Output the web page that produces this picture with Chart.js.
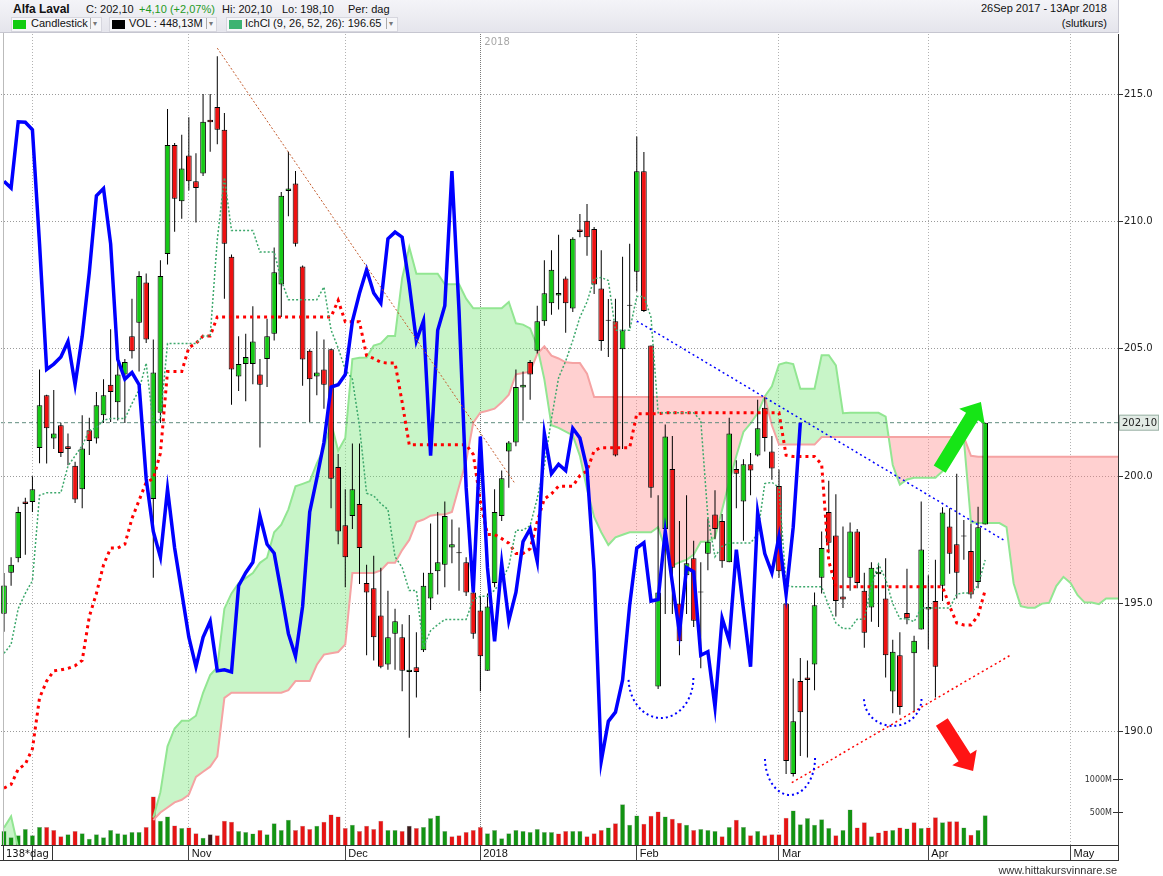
<!DOCTYPE html>
<html>
<head>
<meta charset="utf-8">
<script src="https://cdn.jsdelivr.net/npm/chart.js@4.4.1/dist/chart.umd.min.js"></script>
<style>
  html, body { margin: 0; padding: 0; background: #fff; }
  #wrap { position: relative; width: 1163px; height: 876px; overflow: hidden; font-family: "Liberation Sans", Arial, sans-serif; color: #111; }
  #c { position: absolute; left: 0; top: 0; }
  .hdr { position: absolute; left: 0; top: 0; width: 1118px; height: 32px; background: linear-gradient(#f4f4f8, #e5e5ec); border-bottom: 1px solid #c6c6d0; border-right: 1px solid #c6c6d0; }
  .t { position: absolute; white-space: nowrap; font-size: 11px; line-height: 14px; }
  .s { font-size: 11px; line-height: 13px; }
  .b { font-weight: bold; font-size: 12px; }
  .chip { position: absolute; top: 17px; height: 13px; background: #f6f6f9; border: 1px solid #d6d6de; }
  .sq { position: absolute; top: 20px; width: 13px; height: 9px; }
  .dd { position: absolute; top: 18px; height: 11px; border-left: 1px solid #aaa; padding-left: 2px; font-size: 8px; line-height: 11px; color: #777; font-family: "DejaVu Sans", sans-serif; }
  .ln { position: absolute; background: #333; }
</style>
</head>
<body>
<div id="wrap">
  <canvas id="c" width="1163" height="876"></canvas>
  <div class="hdr"></div>
  <div class="t b" style="left:13px;top:2px">Alfa Laval</div>
  <div class="t" style="left:86px;top:2px">C: 202,10</div>
  <div class="t" style="left:139px;top:2px;color:#1f9a1f">+4,10 (+2,07%)</div>
  <div class="t" style="left:222px;top:2px">Hi: 202,10</div>
  <div class="t" style="left:282px;top:2px">Lo: 198,10</div>
  <div class="t" style="left:348px;top:2px">Per: dag</div>

  <div class="chip" style="left:11px;width:89px"></div>
  <div class="sq" style="left:13px;background:#11cc11"></div>
  <div class="t s" style="left:31px;top:17px">Candlestick</div>
  <div class="dd" style="left:90px">&#9662;</div>

  <div class="chip" style="left:109px;width:106px"></div>
  <div class="sq" style="left:112px;background:#000"></div>
  <div class="t s" style="left:129px;top:17px">VOL : 448,13M</div>
  <div class="dd" style="left:206px">&#9662;</div>

  <div class="chip" style="left:226px;width:170px"></div>
  <div class="sq" style="left:229px;background:#3cb371"></div>
  <div class="t s" style="left:245px;top:17px">IchCl (9, 26, 52, 26): 196.65</div>
  <div class="dd" style="left:386px">&#9662;</div>

  <div class="t s" style="right:56px;top:2px">26Sep 2017 - 13Apr 2018</div>
  <div class="t s" style="right:56px;top:17px">(slutkurs)</div>

  <div class="t s" style="left:6px;top:847px;font-family:'DejaVu Sans';font-size:10px">138*dag</div>
  <div class="ln" style="left:3px;top:845px;width:1px;height:15px"></div>
  <div class="ln" style="left:52px;top:845px;width:1px;height:15px"></div>
  <div class="ln" style="left:0;top:860px;width:1119px;height:1px"></div>
  <div class="ln" style="left:1118px;top:845px;width:1px;height:16px"></div>
  <div class="ln" style="left:3px;top:33px;width:1px;height:812px;background:#bbb"></div>
  <div class="t s" style="right:46px;top:864px;color:#333">www.hittakursvinnare.se</div>
</div>
<script>
// daily candles, 26 Sep 2017 - 13 Apr 2018
const open = [194.60,196.21,196.78,199.01,198.99,201.11,203.18,201.48,202.00,201.18,
  200.41,199.49,201.80,201.48,202.39,203.59,202.90,203.99,205.49,206.02,
  207.60,199.11,202.49,208.72,213.00,210.79,212.59,211.58,211.88,213.99,
  214.49,213.60,208.61,203.91,204.40,204.40,203.99,204.60,205.59,207.52,
  211.19,211.49,208.23,204.92,203.91,204.19,204.98,200.36,198.08,198.44,
  198.91,195.81,195.60,194.53,192.61,193.82,193.68,192.32,192.50,193.17,
  195.20,196.27,196.52,197.20,196.98,196.62,195.44,194.73,192.36,195.81,
  198.44,200.97,201.32,203.48,204.48,204.92,206.08,206.79,207.09,207.76,
  206.58,209.68,210.03,209.70,207.37,206.10,206.08,204.98,206.69,208.02,
  211.97,205.13,191.75,197.93,200.28,195.00,196.11,196.78,195.44,196.96,
  198.50,198.24,196.62,200.28,199.01,200.47,200.81,202.69,200.97,199.62,
  195.00,188.31,191.96,192.10,192.61,196.01,198.60,197.67,195.28,196.01,
  197.83,195.50,194.85,196.15,195.20,191.55,192.97,194.63,193.05,193.98,
  194.87,195.10,195.70,198.03,197.33,197.63,197.06,195.85,198.10];
const high = [196.20,196.82,198.80,199.15,200.00,204.19,203.20,203.38,202.10,201.68,
  200.57,202.39,202.29,203.30,203.81,205.77,204.60,204.60,206.96,208.04,
  207.96,205.37,208.48,214.41,213.08,213.40,214.09,212.67,215.00,215.00,
  216.48,214.25,208.70,205.49,205.59,206.67,204.60,206.18,208.98,211.15,
  212.73,211.98,208.27,204.98,205.69,205.37,205.00,200.87,199.49,201.28,
  201.28,196.52,196.88,196.41,195.50,194.80,194.19,194.55,193.88,196.21,
  198.14,198.60,199.01,198.30,197.99,196.82,195.70,195.30,195.40,199.49,
  200.22,201.38,204.19,204.11,204.56,206.69,208.48,208.87,209.48,207.84,
  209.38,210.29,210.68,209.78,208.87,206.95,206.96,208.61,209.12,213.33,
  212.72,205.13,199.25,202.03,201.58,198.24,199.25,197.47,196.62,198.34,
  199.45,198.52,202.29,200.63,200.67,200.91,203.00,203.10,201.58,200.26,
  195.30,192.06,192.87,192.77,195.44,197.83,199.82,199.29,198.03,198.18,
  197.93,196.21,196.62,196.52,196.78,193.58,193.88,196.37,193.74,199.01,
  196.11,196.72,198.78,198.74,200.10,198.28,198.14,198.80,202.10];
const low = [193.90,195.70,196.62,196.92,198.60,200.51,200.50,201.07,200.75,200.43,
  198.95,198.74,200.83,201.28,202.09,202.13,202.19,202.09,204.62,204.11,
  205.23,196.01,202.09,208.31,209.59,210.10,211.21,209.96,211.78,212.73,
  213.03,206.96,202.80,203.34,202.94,203.61,201.13,203.50,205.33,206.25,
  210.20,209.02,203.55,202.13,203.18,202.65,198.74,197.33,195.64,197.93,
  195.77,192.97,192.77,192.46,192.40,192.40,191.56,189.74,191.31,193.10,
  194.75,195.36,195.64,196.58,195.50,195.30,193.62,191.56,192.36,195.64,
  198.24,199.55,201.18,202.19,203.00,204.82,205.90,206.34,206.54,205.63,
  206.44,209.38,208.65,207.15,204.92,204.68,200.77,201.07,205.83,207.25,
  206.44,199.15,191.65,194.59,194.59,192.97,194.59,194.08,192.46,196.31,
  197.53,196.41,196.62,198.74,197.47,199.25,200.77,200.97,199.86,196.01,
  188.31,188.21,189.02,188.96,191.60,195.40,196.98,194.49,194.83,195.50,
  195.60,193.27,194.29,194.08,192.10,190.70,190.64,194.19,190.74,193.98,
  193.21,191.31,195.10,196.17,195.20,196.72,195.20,195.60,198.10];
const close = [195.71,196.52,198.60,198.91,199.49,202.78,201.88,201.68,200.91,201.07,
  199.09,201.09,201.38,202.78,203.18,203.30,203.99,204.48,204.90,207.86,
  205.37,204.07,207.86,213.00,210.89,212.08,211.58,211.31,213.91,213.89,
  213.60,209.12,204.19,204.40,204.68,205.29,203.59,205.49,208.00,211.01,
  211.29,209.12,204.58,203.81,204.07,203.59,199.90,197.83,196.82,199.49,
  197.18,195.44,193.68,192.52,193.68,194.31,192.36,192.40,192.32,195.70,
  196.21,196.62,198.44,197.33,196.98,195.44,193.82,192.93,194.89,198.60,
  199.92,201.32,203.50,203.59,203.99,206.08,207.18,208.10,207.19,206.79,
  209.32,209.58,209.38,207.52,205.31,206.10,200.81,205.73,206.69,211.97,
  206.48,199.55,195.44,201.56,196.41,193.52,196.58,194.33,195.44,197.43,
  197.93,196.66,201.68,200.10,200.47,200.22,201.88,201.50,200.30,196.27,
  188.82,190.38,190.74,192.00,194.94,197.18,197.39,195.10,195.16,197.83,
  195.81,193.86,196.41,196.25,192.97,193.11,190.94,194.43,193.54,197.12,
  194.77,192.52,198.58,196.96,196.21,197.63,195.36,198.00,202.10];
// volume in millions
const volume = [211,117,148,242,148,273,273,226,133,164,
  211,179,94,164,117,226,179,164,195,195,
  273,733,367,429,296,257,265,179,109,164,
  148,367,351,211,195,172,226,164,328,226,
  382,226,289,242,289,351,460,429,257,304,
  211,289,242,367,226,226,211,289,257,273,
  406,445,211,133,148,195,226,273,179,226,
  101,179,226,211,195,242,195,195,172,211,
  211,211,133,179,226,265,328,616,304,445,
  320,440,507,429,398,335,304,226,242,226,
  211,133,273,382,273,148,211,148,164,164,
  413,523,312,406,304,390,257,148,226,538,
  265,343,133,187,218,226,265,250,343,257,
  265,421,343,359,359,265,156,226,448];

// Ichimoku lines
const tenkan = [193.05,193.40,194.80,195.40,195.90,199.25,199.35,199.35,199.35,200.40,
  200.80,201.20,201.80,201.90,202.20,202.26,202.26,202.26,202.85,203.39,
  204.44,202.03,202.25,205.21,205.21,205.21,205.21,205.21,205.50,205.50,
  209.29,211.72,209.64,209.64,209.64,209.64,208.80,208.80,208.80,207.69,
  206.93,206.93,206.93,206.93,206.93,207.43,205.74,205.03,204.19,203.81,
  201.96,199.33,199.23,198.92,198.70,196.84,196.42,195.51,195.51,193.31,
  193.94,194.17,194.38,194.38,194.38,194.38,195.16,195.29,195.29,195.53,
  195.89,196.47,197.88,197.88,198.06,199.13,200.42,202.26,203.86,204.52,
  205.33,206.24,206.84,207.75,207.80,207.68,205.73,205.73,205.73,207.05,
  207.05,206.24,202.49,202.49,202.49,202.49,202.49,202.49,202.19,198.39,
  196.84,197.25,197.38,197.38,197.38,197.38,197.73,199.71,199.76,199.56,
  195.71,195.66,195.66,195.66,195.66,195.66,194.90,194.24,194.02,194.02,
  194.39,194.39,195.71,196.55,195.96,195.00,194.41,194.41,194.29,194.83,
  194.83,194.83,194.83,194.83,195.37,195.42,195.42,195.71,196.71];
const kijun = [187.76,187.90,188.50,188.70,189.30,191.30,191.96,192.36,192.40,192.46,
  192.56,192.77,194.49,195.40,196.52,197.18,197.18,197.33,198.34,199.05,
  199.76,199.90,200.90,204.11,204.11,204.11,205.05,205.21,205.50,205.50,
  206.25,206.25,206.25,206.25,206.25,206.25,206.25,206.25,206.25,206.25,
  206.25,206.25,206.25,206.25,206.25,206.25,206.25,206.90,206.06,206.06,
  206.06,204.73,204.62,204.47,204.44,204.44,202.90,201.23,201.23,201.23,
  201.23,201.23,201.23,201.23,201.23,201.23,200.86,199.00,197.71,197.71,
  197.55,197.37,196.97,196.97,197.15,198.22,199.11,199.31,199.61,199.61,
  199.61,200.02,200.21,201.00,201.12,201.12,201.12,201.12,201.12,202.45,
  202.45,202.45,202.45,202.49,202.49,202.49,202.49,202.49,202.49,202.49,
  202.49,202.49,202.49,202.49,202.49,202.49,202.49,202.49,202.49,202.49,
  200.82,200.77,200.77,200.77,200.77,200.47,196.67,195.66,195.66,195.66,
  195.66,195.66,195.66,195.66,195.66,195.66,195.66,195.66,195.66,195.66,
  195.66,195.66,195.66,194.90,194.24,194.16,194.16,194.53,195.53];
// cloud edges; the first three points sit at the very bottom edge of the view
const senkouA = [186.2,186.65,185.4,null,null,null,null,null,null,null,
  null,null,null,null,null,null,null,null,null,null,
  null,186.6,187.6,189.4,190.1,190.4,190.4,190.6,191.5,192.2,
  192.5,194.8,195.4,195.8,196.0,196.2,196.6,196.8,197.8,198.1,
  198.7,199.6,199.7,199.8,200.5,201.1,202.1,201.0,201.5,204.6,
  204.65,204.66,205.13,205.21,205.5,205.5,207.77,208.99,207.95,207.95,
  207.95,207.95,207.53,207.53,207.53,206.97,206.59,206.59,206.59,206.59,
  206.59,206.84,206.0,205.95,205.8,205.1,203.8,202.0,201.9,201.75,
  201.6,200.8,199.5,198.4,197.8,197.3,197.6,197.7,197.8,197.8,
  197.8,197.8,198.0,197.15,196.5,196.62,196.72,196.92,197.43,197.43,
  197.6,198.68,199.77,200.79,201.74,202.07,202.47,203.13,203.53,204.38,
  204.46,204.4,203.43,203.43,203.43,204.75,204.75,204.35,202.47,202.49,
  202.49,202.49,202.49,202.49,202.34,200.44,199.67,199.87,199.94,199.94,
  199.94,199.94,200.2,200.9,201.3,201.45,198.2,198.16,198.16,198.16,
  198.16,198.0,195.8,194.9,194.84,194.84,195.0,195.03,195.69,196.05,
  195.81,195.33,195.04,195.04,194.98,195.2,195.2,195.2];
const senkouB = [185.0,185.0,185.0,null,null,null,null,null,null,null,
  null,null,null,null,null,null,null,null,null,null,
  null,186.5,186.8,187.0,187.2,187.3,187.5,188.2,188.4,188.6,
  189.0,191.3,191.5,191.5,191.5,191.5,191.5,191.5,191.5,191.5,
  191.6,191.96,191.96,191.96,192.6,193.0,193.05,193.1,193.4,196.2,
  196.2,196.2,196.2,196.3,196.6,196.6,197.1,197.5,198.2,198.3,
  198.45,198.5,198.5,198.6,199.6,200.6,202.1,202.5,202.57,202.65,
  202.9,203.2,204.0,204.05,204.1,204.8,205.1,204.73,204.62,204.47,
  204.44,204.44,204.02,203.11,203.11,203.11,203.11,203.11,203.11,203.11,
  203.11,203.11,203.11,203.11,203.11,203.11,203.11,203.11,203.11,203.11,
  203.11,203.11,203.11,203.11,203.11,203.11,203.11,203.11,202.0,201.24,
  201.24,201.24,201.24,201.24,201.24,201.54,201.54,201.54,201.54,201.54,
  201.54,201.54,201.54,201.54,201.54,201.54,201.54,201.54,201.54,201.54,
  201.54,201.54,201.54,201.54,201.54,201.54,200.8,200.76,200.76,200.76,
  200.76,200.76,200.76,200.76,200.76,200.76,200.76,200.76,200.76,200.76,
  200.76,200.76,200.76,200.76,200.76,200.76,200.76,200.76];

// axis ticks and labels
const priceTicks = [190, 195, 200, 205, 210, 215];
const monthTickIdx = [4, 26, 48, 67, 89, 109, 130, 150];
const monthTickText = ['', 'Nov', 'Dec', '2018', 'Feb', 'Mar', 'Apr', 'May'];
const volTicks = [500, 1000];
const lastPrice = 202.10;

// hand drawn marks (index, price)
const trendDown = [{x: 30, y: 216.8}, {x: 71.9, y: 199.7}];
const trendBlue = [{x: 89, y: 206.09}, {x: 140.8, y: 197.46}];
const trendRed = [{x: 110.8, y: 187.97}, {x: 141.7, y: 193.0}];
const cupArcs = [
  {x: 92.4, y: 192.08, rx: 4.56, ry: 1.57},
  {x: 110.55, y: 188.94, rx: 3.52, ry: 1.45},
  {x: 125.0, y: 191.26, rx: 4.04, ry: 1.06}
];
const arrows = [
  {from: [131.6, 200.28], to: [137.4, 202.91], color: '#16e516', shaft: 14, head: 30, headLen: 17},
  {from: [131.9, 190.35], to: [136.3, 188.43], color: '#ff1414', shaft: 14, head: 29, headLen: 16}
];

const GREEN = '#16c916', RED = '#ee1111';
const pts = arr => arr.map((v, i) => ({x: i, y: v}));

function drawArrow(ctx, x1, y1, x2, y2, sw, hw, hl, color) {
  const dx = x2 - x1, dy = y2 - y1, len = Math.hypot(dx, dy);
  const ux = dx / len, uy = dy / len, nx = -uy, ny = ux;
  const bx = x2 - ux * hl, by = y2 - uy * hl;
  ctx.fillStyle = color;
  ctx.beginPath();
  ctx.moveTo(x1 + nx * sw / 2, y1 + ny * sw / 2);
  ctx.lineTo(bx + nx * sw / 2, by + ny * sw / 2);
  ctx.lineTo(bx + nx * hw / 2, by + ny * hw / 2);
  ctx.lineTo(x2, y2);
  ctx.lineTo(bx - nx * hw / 2, by - ny * hw / 2);
  ctx.lineTo(bx - nx * sw / 2, by - ny * sw / 2);
  ctx.lineTo(x1 - nx * sw / 2, y1 - ny * sw / 2);
  ctx.closePath();
  ctx.fill();
}

const overlay = {
  id: 'overlay',
  afterDraw(chart) {
    const {ctx, chartArea: a, scales: {x, y, yv}} = chart;
    ctx.save();
    ctx.beginPath();
    ctx.rect(a.left, a.top, a.right - a.left, a.bottom - a.top);
    ctx.clip();
    ctx.strokeStyle = '#0000ff';
    ctx.lineWidth = 2;
    ctx.setLineDash([2, 3]);
    cupArcs.forEach(c => {
      const cx = x.getPixelForValue(c.x), cy = y.getPixelForValue(c.y);
      const rx = x.getPixelForValue(c.x + c.rx) - cx;
      const ry = y.getPixelForValue(c.y - c.ry) - cy;
      ctx.beginPath();
      ctx.ellipse(cx, cy, rx, ry, 0, 0, Math.PI);
      ctx.stroke();
    });
    ctx.setLineDash([]);
    arrows.forEach(r => {
      drawArrow(ctx, x.getPixelForValue(r.from[0]), y.getPixelForValue(r.from[1]),
        x.getPixelForValue(r.to[0]), y.getPixelForValue(r.to[1]), r.shaft, r.head, r.headLen, r.color);
    });
    // year label on the 2018 line
    ctx.fillStyle = '#a8a8a8';
    ctx.font = '10px "DejaVu Sans"';
    ctx.textBaseline = 'middle';
    ctx.fillText('2018', x.getPixelForValue(67) + 4, a.top + 8);
    ctx.restore();

    // volume scale marks
    ctx.save();
    ctx.font = '8px "DejaVu Sans"';
    ctx.fillStyle = '#333';
    ctx.strokeStyle = '#333';
    ctx.textAlign = 'right';
    ctx.textBaseline = 'middle';
    volTicks.forEach(v => {
      const py = Math.round(yv.getPixelForValue(v)) + 0.5;
      ctx.fillText(v + 'M', a.right - 6, py);
      ctx.beginPath();
      ctx.moveTo(a.right - 5, py);
      ctx.lineTo(a.right + 5, py);
      ctx.stroke();
    });
    // last price box
    const py = y.getPixelForValue(lastPrice);
    ctx.fillStyle = '#e2ebe5';
    ctx.strokeStyle = '#9db3a8';
    ctx.fillRect(a.right + 1, py - 8, 40, 16);
    ctx.strokeRect(a.right + 1.5, py - 7.5, 39, 15);
    ctx.fillStyle = '#222';
    ctx.textAlign = 'left';
    ctx.font = '10px "DejaVu Sans"';
    ctx.fillText('202,10', a.right + 4, py + 0.5);
    ctx.restore();
  }
};

const volColors = close.map((c, i) => {
  if (i === 0) return '#139313';
  const d = c - close[i - 1];
  if (Math.abs(d) < 0.05) return '#3a1c1c';
  return d > 0 ? '#139313' : '#e51414';
});
const bodyColors = close.map((c, i) => c >= open[i] ? GREEN : RED);
const xMin = -0.42, xMax = 156.68;

new Chart(document.getElementById('c'), {
  type: 'bar',
  data: {
    datasets: [
      {
        label: 'Volume', type: 'bar', yAxisID: 'yv', order: 20,
        data: pts(volume), backgroundColor: volColors, borderColor: 'rgba(0,0,0,0.35)', borderWidth: 0.5,
        borderSkipped: 'start', grouped: false, barPercentage: 1, maxBarThickness: 5
      },
      {
        label: 'Senkou A', type: 'line', order: 15,
        data: pts(senkouA), borderColor: '#92e692', borderWidth: 2, pointRadius: 0,
        fill: {target: '+1', above: 'rgba(117,230,117,0.4)', below: 'rgba(255,137,137,0.4)'}
      },
      {
        label: 'Senkou B', type: 'line', order: 14,
        data: pts(senkouB), borderColor: '#f5a3a3', borderWidth: 2, pointRadius: 0, fill: false
      },
      {
        label: 'Last', type: 'line', order: 13,
        data: [{x: xMin, y: lastPrice}, {x: xMax, y: lastPrice}],
        borderColor: '#5f8c7e', borderWidth: 1, borderDash: [4, 3], pointRadius: 0, fill: false
      },
      {
        label: 'Wick', type: 'bar', order: 10,
        data: high.map((h, i) => ({x: i, y: [low[i], h]})),
        backgroundColor: '#000', borderWidth: 0,
        grouped: false, barPercentage: 1, maxBarThickness: 1
      },
      {
        label: 'Body', type: 'bar', order: 9,
        data: open.map((o, i) => ({x: i, y: [Math.min(o, close[i]), Math.max(o, close[i])]})),
        backgroundColor: bodyColors, borderColor: '#000', borderWidth: 1, borderSkipped: false,
        grouped: false, barPercentage: 1, maxBarThickness: 6, minBarLength: 1
      },
      {
        label: 'Kijun', type: 'line', order: 6,
        data: pts(kijun), borderColor: '#ff0000', borderWidth: 3, borderDash: [3, 4],
        pointRadius: 0, fill: false
      },
      {
        label: 'Tenkan', type: 'line', order: 5,
        data: pts(tenkan), borderColor: '#3da86c', borderWidth: 1.5, borderDash: [2, 2],
        pointRadius: 0, fill: false
      },
      {
        label: 'Chikou', type: 'line', order: 4,
        data: close.slice(26).map((c, i) => ({x: i, y: c})),
        borderColor: '#0000ff', borderWidth: 3.5, pointRadius: 0, fill: false
      },
      {
        label: 'Trend down', type: 'line', order: 3,
        data: trendDown, borderColor: '#c25a2c', borderWidth: 1, borderDash: [2, 2], pointRadius: 0, fill: false
      },
      {
        label: 'Trend blue', type: 'line', order: 2,
        data: trendBlue, borderColor: '#0000ff', borderWidth: 1.5, borderDash: [2, 3], pointRadius: 0, fill: false
      },
      {
        label: 'Trend red', type: 'line', order: 1,
        data: trendRed, borderColor: '#ff0000', borderWidth: 1.5, borderDash: [2, 3], pointRadius: 0, fill: false
      }
    ]
  },
  options: {
    responsive: false,
    animation: false,
    events: [],
    layout: {padding: {top: 34, left: 1, right: 0, bottom: 15}},
    plugins: {
      legend: {display: false},
      tooltip: {enabled: false},
      filler: {drawTime: 'beforeDatasetsDraw'}
    },
    scales: {
      x: {
        type: 'linear', min: xMin, max: xMax, offset: false,
        afterBuildTicks: s => { s.ticks = monthTickIdx.map(v => ({value: v})); },
        afterFit: s => { s.height = 16; },
        grid: {
          color: c => (c.tick && c.tick.value === 67) ? '#7a7a7a' : '#b2b2b2',
          lineWidth: 1, drawTicks: true, tickLength: 16, tickColor: '#444', offset: false
        },
        border: {display: true, color: '#333', width: 1, dash: c => (c.tick && c.tick.value === 67) ? [1, 1] : [1, 2]},
        ticks: {
          autoSkip: false, maxRotation: 0, align: 'start', labelOffset: 3, padding: -14,
          color: '#111', font: {family: 'Liberation Sans', size: 11},
          callback: v => { const k = monthTickIdx.indexOf(v); return k >= 0 ? monthTickText[k] : ''; }
        }
      },
      y: {
        type: 'linear', position: 'right', min: 185.526, max: 217.355,
        afterBuildTicks: s => { s.ticks = priceTicks.map(v => ({value: v})); },
        afterFit: s => { s.width = 45; },
        grid: {color: '#9a9a9a', drawTicks: true, tickLength: 5, tickColor: '#333'},
        border: {display: true, color: '#333', width: 1, dash: [1, 2]},
        ticks: {padding: 1, color: '#222', font: {family: 'DejaVu Sans', size: 10}, callback: v => v.toFixed(1)}
      },
      yv: {type: 'linear', display: false, min: 0, max: 12250}
    }
  },
  plugins: [overlay]
});
</script>
</body>
</html>
